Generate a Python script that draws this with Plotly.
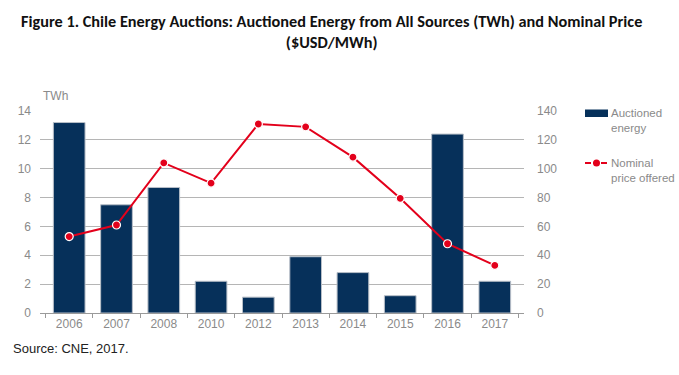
import plotly.graph_objects as go

years = ["2006", "2007", "2008", "2010", "2012", "2013", "2014", "2015", "2016", "2017"]
energy_twh = [13.2, 7.5, 8.7, 2.2, 1.1, 3.9, 2.8, 1.2, 12.4, 2.2]
price_usd_mwh = [53, 61, 104, 90, 131, 129, 108, 79.5, 48, 33]
left_ticks = [0, 2, 4, 6, 8, 10, 12, 14]
right_ticks = [0, 20, 40, 60, 80, 100, 120, 140]

narrow = "Liberation Sans Narrow, Liberation Sans, Arial"
grey = "#8a8a8a"
tick_font = dict(family=narrow, size=12, color=grey)
bar_color = "#06305a"
line_color = "#e3001b"

fig = go.Figure()
fig.add_trace(go.Bar(
    x=years, y=energy_twh, name="Auctioned energy",
    marker=dict(color=bar_color, line=dict(color="#b8bfc8", width=1)),
    yaxis="y", showlegend=False,
))
fig.add_trace(go.Scatter(
    x=years, y=price_usd_mwh, name="Nominal price offered",
    mode="lines+markers",
    line=dict(color=line_color, width=2),
    marker=dict(color=line_color, size=8, line=dict(color="white", width=1.2)),
    yaxis="y2", showlegend=False,
))

# plot area in pixels: x 40..524, y 111..313 (height 202)
def px_x(p):
    return (p - 40) / 484.0

def px_y(p):
    return (313 - p) / 202.0

shapes = [
    dict(type="rect", xref="paper", yref="paper",
         x0=px_x(585), x1=px_x(608), y0=px_y(117), y1=px_y(109.5),
         fillcolor=bar_color, line=dict(width=0)),
    dict(type="line", xref="paper", yref="paper",
         x0=px_x(585), x1=px_x(608), y0=px_y(163), y1=px_y(163),
         line=dict(color=line_color, width=2, dash="6px,2px")),
    dict(type="circle", xref="paper", yref="paper",
         x0=px_x(593), x1=px_x(600), y0=px_y(166.5), y1=px_y(159.5),
         fillcolor=line_color, line=dict(width=0)),
]

annotations = [
    dict(text="<b>Figure 1. Chile Energy Auctions: Auctioned Energy from All Sources (TWh) and Nominal Price<br>($USD/MWh)</b>",
         xref="paper", yref="paper", x=px_x(331), y=px_y(9), xanchor="center", yanchor="top",
         showarrow=False, align="center",
         font=dict(family="Carlito, Lato, Liberation Sans", size=16.3, color="#111111")),
    dict(text="TWh", xref="paper", yref="paper", x=px_x(41), y=px_y(96), xanchor="left", yanchor="middle",
         showarrow=False, font=tick_font),
    dict(text="Source: CNE, 2017.", xref="paper", yref="paper", x=px_x(11), y=px_y(348),
         xanchor="left", yanchor="middle", showarrow=False,
         font=dict(family=narrow, size=13, color="#222222")),
    dict(text="Auctioned<br>energy", xref="paper", yref="paper", x=px_x(609), y=px_y(105),
         xanchor="left", yanchor="top", showarrow=False, align="left",
         font=dict(family=narrow, size=11.5, color=grey)),
    dict(text="Nominal<br>price offered", xref="paper", yref="paper", x=px_x(609), y=px_y(155),
         xanchor="left", yanchor="top", showarrow=False, align="left",
         font=dict(family=narrow, size=11.5, color=grey)),
]

fig.update_layout(
    width=679, height=375,
    margin=dict(l=40, r=155, t=111, b=62, autoexpand=False),
    paper_bgcolor="white", plot_bgcolor="white",
    bargap=0.33,
    showlegend=False,
    xaxis=dict(
        type="category", showgrid=False, automargin=False,
        showline=True, linecolor="#9a9a9a", linewidth=1,
        ticks="outside", tickson="boundaries", ticklen=4, tickcolor="#9a9a9a",
        tickfont=tick_font,
    ),
    yaxis=dict(
        range=[0, 14], tickvals=left_ticks, showgrid=True, gridcolor="#b5b5b5", gridwidth=1,
        zeroline=False, showline=False, tickfont=tick_font, ticks="", ticklabelstandoff=8,
        automargin=False,
    ),
    yaxis2=dict(
        range=[0, 140], tickvals=right_ticks, overlaying="y", side="right", showgrid=False,
        zeroline=False, showline=False, tickfont=tick_font, ticks="", ticklabelstandoff=12,
        automargin=False,
    ),
    shapes=shapes,
    annotations=annotations,
)

fig.write_html("out.html", config={"displayModeBar": False},
               post_script="document.body.style.margin='0';")
